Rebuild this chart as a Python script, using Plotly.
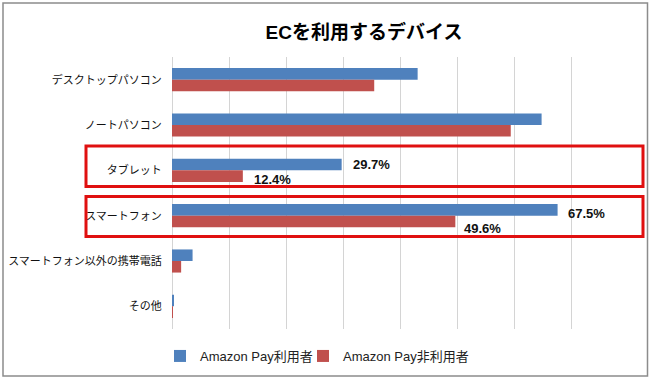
import plotly.graph_objects as go

# ---- data ----
categories = ["デスクトップパソコン", "ノートパソコン", "タブレット", "スマートフォン",
              "スマートフォン以外の携帯電話", "その他"]
users = [43.0, 64.7, 29.7, 67.5, 3.6, 0.3]        # Amazon Pay利用者
non_users = [35.4, 59.3, 12.4, 49.6, 1.6, 0.1]    # Amazon Pay非利用者
series_names = ["Amazon Pay利用者", "Amazon Pay非利用者"]
highlighted = ["タブレット", "スマートフォン"]
title_text = "ECを利用するデバイス"

# ---- style ----
BLUE = "#4f81bd"
RED = "#c0504d"
FONT = "Liberation Sans, Arial, Noto Sans CJK JP, sans-serif"
W, H = 650, 379
X0, X1, Y0, Y1 = 172, 629, 57, 329   # plot area in pixels


def px(x):
    return (x - X0) / (X1 - X0)


def py(y):
    return (Y1 - y) / (Y1 - Y0)


fig = go.Figure()
fig.add_trace(go.Bar(y=categories, x=users, orientation="h", name=series_names[0],
                     marker=dict(color=BLUE, line=dict(width=0)), legend="legend"))
fig.add_trace(go.Bar(y=categories, x=non_users, orientation="h", name=series_names[1],
                     marker=dict(color=RED, line=dict(width=0)), legend="legend2"))

# value labels on highlighted categories
label_yshift = {("タブレット", 0): 6, ("タブレット", 1): -9.5,
                ("スマートフォン", 0): 2.5, ("スマートフォン", 1): -13}
label_xshift = {("タブレット", 0): 9, ("タブレット", 1): 9,
                ("スマートフォン", 0): 8, ("スマートフォン", 1): 7}
for si, vals in enumerate([users, non_users]):
    for cat, v in zip(categories, vals):
        if cat in highlighted:
            fig.add_annotation(x=v, y=cat, xref="x", yref="y", text=f"<b>{v:.1f}%</b>",
                               showarrow=False, xanchor="left", yanchor="middle",
                               xshift=label_xshift[(cat, si)], yshift=label_yshift[(cat, si)],
                               font=dict(size=13, color="#111111", family=FONT))

# red highlight boxes (pixel layout)
boxes = [(86, 146, 643, 186.5), (86, 196.5, 643, 236.5)]
for (bx0, by0, bx1, by1) in boxes:
    fig.add_shape(type="rect", xref="paper", yref="paper",
                  x0=px(bx0), x1=px(bx1), y0=py(by1), y1=py(by0),
                  line=dict(color="#e01010", width=3), fillcolor="rgba(0,0,0,0)", layer="above")

# outer frame
fig.add_shape(type="rect", xref="paper", yref="paper",
              x0=px(3), x1=px(647.5), y0=py(376), y1=py(3),
              line=dict(color="#8c8c8c", width=1.5), fillcolor="rgba(0,0,0,0)", layer="above")

legend_style = dict(orientation="h", xanchor="left", y=py(356), yanchor="middle",
                    font=dict(size=13, color="#222222", family=FONT),
                    itemwidth=30, bgcolor="rgba(0,0,0,0)")

fig.update_layout(
    width=W, height=H,
    margin=dict(l=X0, r=W - X1, t=Y0, b=H - Y1, pad=0, autoexpand=False),
    paper_bgcolor="white", plot_bgcolor="white",
    barmode="group", bargap=0.49, bargroupgap=0,
    title=dict(text=f"<b>{title_text}</b>", x=364 / W, xref="container", xanchor="center",
               y=1 - 32.7 / H, yref="container", yanchor="middle",
               font=dict(size=19, color="#000000", family=FONT)),
    font=dict(family=FONT, color="#000000"),
    showlegend=True,
    legend=dict(x=px(160), **legend_style),
    legend2=dict(x=px(303), **legend_style),
    xaxis=dict(range=[0, 80], dtick=10, showticklabels=False, showgrid=True,
               gridcolor="#d4d4d4", gridwidth=1, zeroline=True, zerolinecolor="#d4d4d4",
               zerolinewidth=1, showline=False, fixedrange=True, automargin=False),
    yaxis=dict(autorange="reversed", showgrid=False, showline=False, zeroline=False,
               ticks="outside", ticklen=7, tickcolor="rgba(0,0,0,0)", automargin=False,
               tickfont=dict(size=11, color="#111111", family=FONT), fixedrange=True),
)

fig.write_html("out.html", config={"displayModeBar": False},
               post_script="document.body.style.margin='0';document.body.style.overflow='hidden';")
